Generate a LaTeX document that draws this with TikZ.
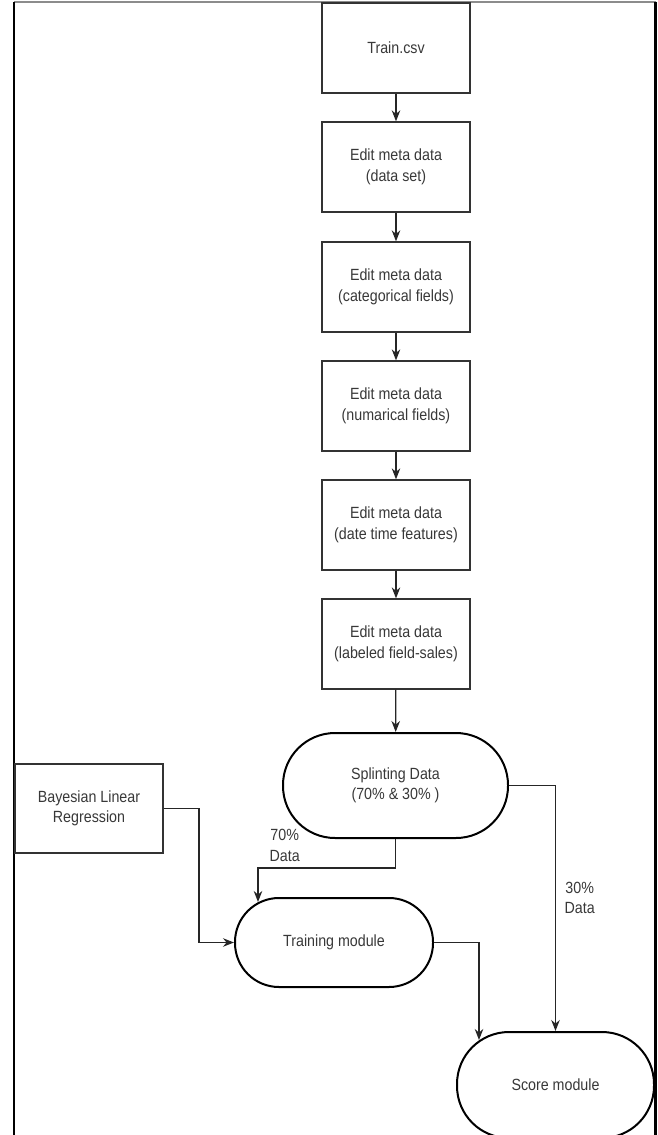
\documentclass[tikz,border=0pt]{standalone}
\usepackage{fontspec}
\setmainfont{Liberation Sans}[FakeStretch=0.88]
\usetikzlibrary{arrows.meta}
\begin{document}
\begin{tikzpicture}[x=1pt,y=-1pt,
  lbl/.style={font=\fontsize{16.2}{20.5}\selectfont, text=black!78, align=center},
  stepbox/.style={lbl, draw=black!80, line width=1.3pt, minimum width=148pt, minimum height=90pt, inner sep=0pt},
  term/.style={lbl, draw=black, line width=2pt, inner sep=0pt},
  arr/.style={draw=black!85, line width=1.3pt, -{Stealth[length=11pt,width=8.5pt]}}
]
\useasboundingbox (0,0) rectangle (658,1135);
\clip (0,0) rectangle (658,1135);
% frame
\draw[black!45, line width=1.5pt] (14,2) -- (656,2);
\draw[black, line width=2.5pt] (14,1.5) -- (14,1135);
\draw[black, line width=2.5pt] (655.5,1.5) -- (655.5,1135);
% boxes
\node[stepbox] (b1) at (396,48) {Train.csv};
\node[stepbox] (b2) at (396,167) {Edit meta data\\(data set)};
\node[stepbox] (b3) at (396,287) {Edit meta data\\(categorical fields)};
\node[stepbox] (b4) at (396,406) {Edit meta data\\(numarical fields)};
\node[stepbox] (b5) at (396,525) {Edit meta data\\(date time features)};
\node[stepbox] (b6) at (396,644) {Edit meta data\\(labeled field-sales)};
\node[term, minimum width=225pt, minimum height=105pt, rounded corners=52pt] (split) at (395.5,785.5) {Splinting Data\\(70\% \& 30\% )};
\node[term, minimum width=198pt, minimum height=89pt, rounded corners=44pt] (train) at (334,942.5) {Training module};
\node[term, minimum width=197pt, minimum height=106pt, rounded corners=52pt] (score) at (555.5,1085) {Score module};
\node[stepbox, minimum height=89pt] (bayes) at (89,808.5) {Bayesian Linear\\Regression};
% labels
\node[lbl] (l70) at (284.7,845.5) {70\%\\Data};
\node[lbl] (l30) at (579.7,898) {30\%\\Data};
% connectors
\foreach \a/\b in {b1/b2,b2/b3,b3/b4,b4/b5,b5/b6} \draw[arr] (\a) -- (\b);
\draw[arr] (b6) -- (split);
\coordinate (k1) at (199,942.5);
\draw[arr] (bayes.east) -| (k1) -- (train.west);
\coordinate (k2) at (258,868);
\draw[arr, shorten >=-5pt] (split.south) |- (k2) -- (k2 |- train.north);
\draw[arr] (split.east) -| (score.north);
\coordinate (k4) at (479,942.5);
\draw[arr, shorten >=-9pt] (train.east) -- (k4) -- (k4 |- score.north);
\end{tikzpicture}
\end{document}
